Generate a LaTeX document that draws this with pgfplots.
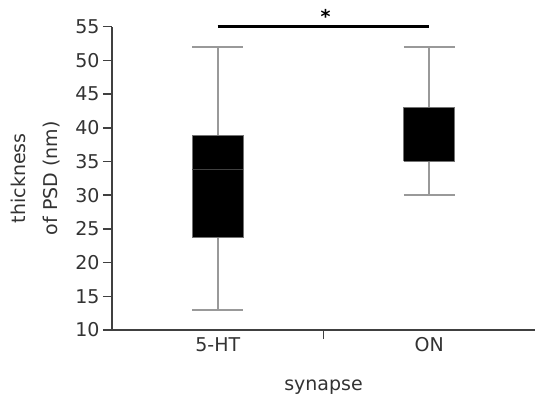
\documentclass[border=0pt]{standalone}
\usepackage{fontspec}
\setmainfont{DejaVu Sans}
\usepackage{pgfplots}
\pgfplotsset{compat=1.18}
\begin{document}
\begin{tikzpicture}
\begin{axis}[
  scale only axis,
  width=423pt, height=303.3pt,
  xmin=0.5, xmax=2.5, ymin=10, ymax=55,
  axis x line*=bottom, axis y line*=left,
  axis line style={draw=black!75, line width=1.8pt},
  ytick={10,15,...,55},
  tick align=outside,
  major tick length=9pt,
  tick style={draw=black!75, line width=1.5pt},
  xtick={1.5}, xticklabels={},
  extra x ticks={1,2}, extra x tick labels={5-HT,ON},
  extra x tick style={major tick length=0pt, xticklabel style={yshift=-4pt}},
  tick label style={font=\fontsize{19}{23}\selectfont, text=black!80},
  label style={font=\fontsize{19}{23}\selectfont, text=black!80},
  /pgf/number format/assume math mode=true,
  xlabel={synapse},
  xlabel style={at={(axis description cs:0.5,0)}, anchor=base, yshift=-60pt},
  ylabel={thickness\\[9pt]of PSD (nm)},
  ylabel style={at={(axis description cs:-0.1797,0.5)}, anchor=center, align=center},
  clip=false,
  whisk/.style={draw=black!40, line width=2pt, mark=none},
  boxst/.style={fill=black, draw=black!55, line width=1pt, mark=none},
  med/.style={draw=black!75, line width=0.8pt, mark=none},
]
% 5-HT: lower whisker 13, Q1 23.7, median 33.9, Q3 38.8, upper whisker 52
\addplot[whisk] coordinates {(1,38.8) (1,52)};
\addplot[whisk] coordinates {(0.8795,52) (1.1205,52)};
\addplot[whisk] coordinates {(1,23.7) (1,13)};
\addplot[whisk] coordinates {(0.8795,13) (1.1205,13)};
\addplot[boxst] coordinates {(0.8795,23.7) (1.1205,23.7) (1.1205,38.8) (0.8795,38.8) (0.8795,23.7)};
\addplot[med] coordinates {(0.8795,33.9) (1.1205,33.9)};
% ON: lower whisker 30, Q1 35, Q3 43, upper whisker 52
\addplot[whisk] coordinates {(2,43) (2,52)};
\addplot[whisk] coordinates {(1.8795,52) (2.1205,52)};
\addplot[whisk] coordinates {(2,35) (2,30)};
\addplot[whisk] coordinates {(1.8795,30) (2.1205,30)};
\addplot[boxst] coordinates {(1.8795,35) (2.1205,35) (2.1205,43) (1.8795,43) (1.8795,35)};
% significance bar
\addplot[black, line width=3.5pt, mark=none] coordinates {(1,55.05) (2,55.05)};
\node[anchor=base, font=\fontsize{19}{23}\selectfont\bfseries, xshift=2pt, yshift=3pt] at (axis cs:1.5,55) {*};
\coordinate (BL) at (rel axis cs:0,0);
\end{axis}
\pgfresetboundingbox
\path[use as bounding box] ([shift={(-112pt,-66pt)}]BL) rectangle ([shift={(423pt,330pt)}]BL);
\end{tikzpicture}
\end{document}
